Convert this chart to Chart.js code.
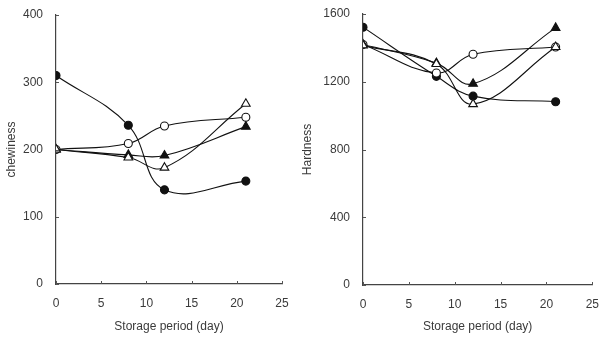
<!DOCTYPE html>
<html><head><meta charset="utf-8">
<script src="https://cdn.jsdelivr.net/npm/chart.js@4"></script>
<style>
html,body{margin:0;padding:0;background:#fff;}
#w{position:relative;width:603px;height:338px;overflow:hidden;}
#c1{position:absolute;left:0;top:0;}
#c2{position:absolute;left:300px;top:0;}
</style></head><body>
<div id="w"><canvas id="c1" width="300" height="338"></canvas><canvas id="c2" width="303" height="338"></canvas></div>
<script>
const days = [0, 8, 12, 21];
const xTicks = [0, 5, 10, 15, 20, 25];
const chewFilledCircle = [310, 236, 140, 153];
const chewOpenCircle = [200, 209, 235, 248];
const chewFilledTri = [200, 192, 191, 234];
const chewOpenTri = [200, 188, 173, 268];
const hardFilledCircle = [1522, 1232, 1115, 1082];
const hardOpenCircle = [1420, 1252, 1362, 1405];
const hardFilledTri = [1420, 1310, 1188, 1518];
const hardOpenTri = [1415, 1305, 1068, 1405];
const chewTicks = [0, 100, 200, 300, 400];
const hardTicks = [0, 400, 800, 1200, 1600];

const FONT = "'Liberation Sans', Arial, sans-serif";
const TXT = '#3a3a3a';

function pts(vals){ return days.map((d,i)=>({x:d,y:vals[i]})); }
function ds(vals, style, filled, r){
  return {data: pts(vals), showLine:true, borderColor:'#111', borderWidth:1.1,
    tension:0.4, pointStyle:style, pointRadius:r, pointHoverRadius:r,
    pointBackgroundColor: filled ? '#111' : '#fff', pointBorderColor:'#111', pointBorderWidth:1.1};
}
const innerTicks = {
  id:'innerTicks',
  afterDraw(chart){
    const {ctx, scales:{x,y}, chartArea:a} = chart;
    ctx.save(); ctx.strokeStyle='#555'; ctx.lineWidth=1;
    ctx.beginPath();
    y.ticks.forEach(t=>{const p=Math.round(y.getPixelForValue(t.value))+0.5; ctx.moveTo(a.left,p); ctx.lineTo(a.left+3,p);});
    x.ticks.forEach(t=>{const p=Math.round(x.getPixelForValue(t.value))+0.5; ctx.moveTo(p,a.bottom); ctx.lineTo(p,a.bottom-3);});
    ctx.stroke(); ctx.restore();
  }
};
function make(id, series, yTicks, yTitle, yW, xH, pad, titlePad){
  const yMax = yTicks[yTicks.length-1];
  new Chart(document.getElementById(id), {
    type:'scatter',
    data:{datasets:[
      ds(series[3],'triangle',false,5),
      ds(series[2],'triangle',true,5),
      ds(series[1],'circle',false,4),
      ds(series[0],'circle',true,4)
    ]},
    plugins:[innerTicks],
    options:{
      responsive:false, animation:false, events:[],
      layout:{padding:pad},
      plugins:{legend:{display:false}, tooltip:{enabled:false}},
      scales:{
        x:{type:'linear', min:0, max:25,
          afterBuildTicks:(a)=>{a.ticks = xTicks.map(v=>({value:v}));},
          afterFit:(a)=>{a.height = xH;},
          grid:{display:false}, border:{display:true,color:'#444',width:1.2},
          ticks:{color:TXT, font:{family:FONT,size:12}, padding:4, maxRotation:0, callback:(v)=>String(v)},
          title:{display:true,text:'Storage period (day)',color:TXT,font:{family:FONT,size:12},padding:{top:4,bottom:4}}
        },
        y:{min:0, max:yMax,
          afterBuildTicks:(a)=>{a.ticks = yTicks.map(v=>({value:v}));},
          afterFit:(a)=>{a.width = yW;},
          grid:{display:false}, border:{display:true,color:'#444',width:1.2},
          ticks:{color:TXT, font:{family:FONT,size:12}, padding:5, callback:(v)=>String(v)},
          title:{display:true,text:yTitle,color:TXT,font:{family:FONT,size:12},padding:{top:titlePad,bottom:0}}
        }
      }
    }
  });
}
make('c1',[chewFilledCircle,chewOpenCircle,chewFilledTri,chewOpenTri],chewTicks,'chewiness',56,54,{top:15,right:18,left:0,bottom:0},4);
make('c2',[hardFilledCircle,hardOpenCircle,hardFilledTri,hardOpenTri],hardTicks,'Hardness',63,53,{top:14,right:7,left:0,bottom:0},0);
</script>
</body></html>
